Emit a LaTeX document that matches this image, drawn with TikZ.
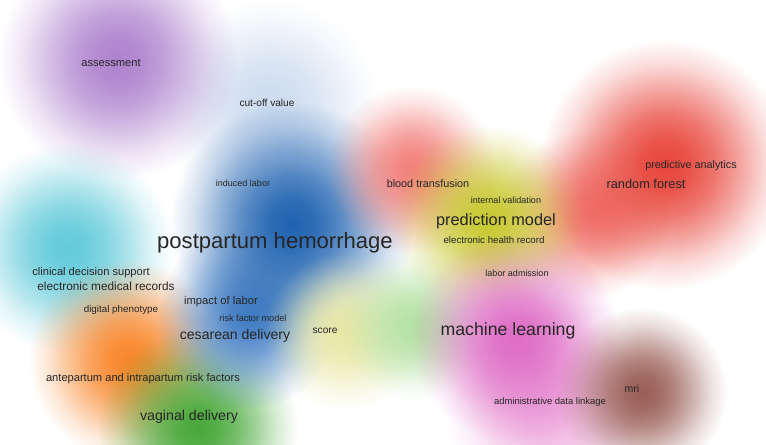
\documentclass[tikz,border=0pt]{standalone}
\usepackage{fontspec}
\setmainfont{Liberation Sans}
\usepackage{xcolor}
\usepackage{tikz}
\usetikzlibrary{fadings}

% soft density spot
\pgfdeclareradialshading{spotshade}{\pgfpointorigin}{color(0bp)=(white); color(5bp)=(white!92!black); color(10bp)=(white!74!black); color(15bp)=(white!48!black); color(20bp)=(white!20!black); color(25bp)=(black); color(50bp)=(black)}
\pgfdeclarefading{spot}{\pgfuseshading{spotshade}}

\definecolor{cPurple}{HTML}{AE82CE}
\definecolor{cPale}{HTML}{CCDBEF}
\definecolor{cBlue}{HTML}{1E62B0}
\definecolor{cBlueLt}{HTML}{4580C6}
\definecolor{cCyan}{HTML}{62CADA}
\definecolor{cOrange}{HTML}{F8862A}
\definecolor{cGreen}{HTML}{48A83A}
\definecolor{cGreenLt}{HTML}{B4E2A4}
\definecolor{cYellow}{HTML}{E8E8A6}
\definecolor{cOlive}{HTML}{C8C830}
\definecolor{cRed}{HTML}{E8453A}
\definecolor{cRedLt}{HTML}{F2807A}
\definecolor{cPink}{HTML}{DE6CC6}
\definecolor{cPinkLt}{HTML}{F0B0E0}
\definecolor{cBrown}{HTML}{9A5E56}

\newcommand{\fsz}[1]{\fontsize{#1}{#1}\selectfont}

\begin{document}
\begin{tikzpicture}[x=0.025cm, y=-0.025cm]
  % Define styles
  \tikzstyle{density} = [path fading=spot]
  \tikzstyle{term} = [inner sep=0pt, text=black!85]

  \useasboundingbox (0,0) rectangle (766,445);
  \clip (0,0) rectangle (766,445);

  % Density spots
  \fill [density, cPale] (270,108) circle (110);
  \fill [density, cPinkLt] (545,410) circle (100);
  \fill [density, cPurple] (118,60) circle (120);
  \fill [density, cCyan] (68,248) circle (105);
  \fill [density, cOrange] (128,360) circle (100);
  \fill [density, cGreen] (198,428) circle (100);
  \fill [density, cBlueLt] (248,318) circle (92);
  \fill [density, cBlue] (292,224) circle (122);
  \fill [density, cYellow] (345,332) circle (80);
  \fill [density, cGreenLt] (415,325) circle (75);
  \fill [density, cRedLt] (412,170) circle (85);
  \fill [density, cRedLt] (585,215) circle (85);
  \fill [density, cRed] (665,165) circle (125);
  \fill [density, cOlive] (488,220) circle (95);
  \fill [density, cPink] (515,338) circle (105);
  \fill [density, cBrown] (642,392) circle (85);

  % Purple and blue cluster
  \node [term, font=\fsz{7.9}] (assessment) at (111,63) {assessment};
  \node [term, font=\fsz{7.2}] (cutoff) at (267,103) {cut-off value};
  \node [term, font=\fsz{6.4}] (induced) at (243,183) {induced labor};
  \node [term, font=\fsz{15.7}] (pph) at (275,243) {postpartum hemorrhage};
  \node [term, font=\fsz{8}] (impact) at (221,302) {impact of labor};
  \node [term, font=\fsz{6.5}] (riskmodel) at (253,318) {risk factor model};
  \node [term, font=\fsz{10}] (cesarean) at (235,336) {cesarean delivery};

  % Cyan, orange and green cluster
  \node [term, font=\fsz{7.9}] (cds) at (91,273) {clinical decision support};
  \node [term, font=\fsz{8.4}] (emr) at (106,286) {electronic medical records};
  \node [term, font=\fsz{7}] (phenotype) at (121,310) {digital phenotype};
  \node [term, font=\fsz{7.9}] (antepartum) at (143,379) {antepartum and intrapartum risk factors};
  \node [term, font=\fsz{10.1}] (vaginal) at (189,417) {vaginal delivery};
  \node [term, font=\fsz{7.2}] (score) at (325,331) {score};

  % Red and yellow cluster
  \node [term, font=\fsz{7.7}] (transfusion) at (428,184) {blood transfusion};
  \node [term, font=\fsz{6.4}] (validation) at (506,200) {internal validation};
  \node [term, font=\fsz{11.6}] (prediction) at (496,221) {prediction model};
  \node [term, font=\fsz{6.9}] (ehr) at (494,240) {electronic health record};
  \node [term, font=\fsz{6.4}] (admission) at (517,273) {labor admission};
  \node [term, font=\fsz{9.1}] (forest) at (646,184) {random forest};
  \node [term, font=\fsz{7.7}] (analytics) at (691,166) {predictive analytics};

  % Pink and brown cluster
  \node [term, font=\fsz{12.6}] (ml) at (508,331) {machine learning};
  \node [term, font=\fsz{6.7}] (linkage) at (550,402) {administrative data linkage};
  \node [term, font=\fsz{7.5}] (mri) at (632,389) {mri};
\end{tikzpicture}
\end{document}
